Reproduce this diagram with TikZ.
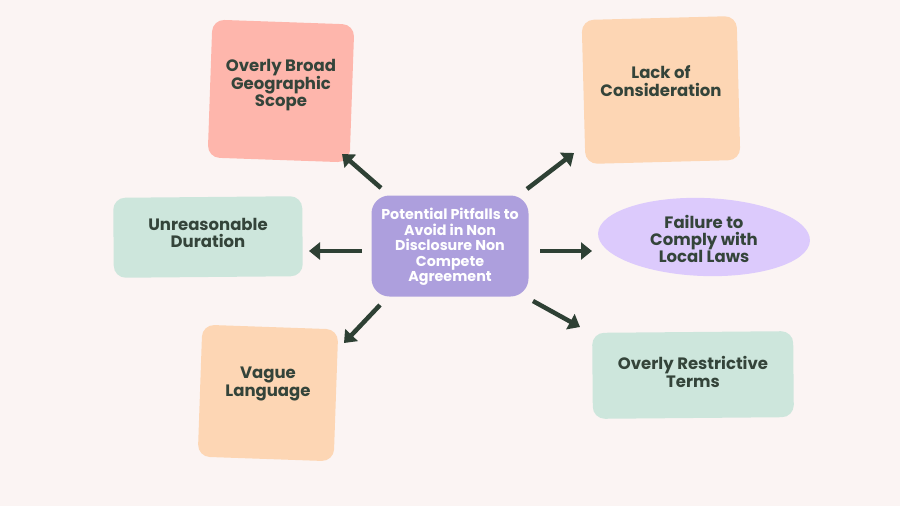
\documentclass[tikz,border=0pt]{standalone}
\usepackage{fontspec}
\setmainfont{Poppins}[UprightFont=* Bold]
\usetikzlibrary{arrows.meta,shapes.geometric}
\definecolor{bg}{HTML}{FBF4F3}
\definecolor{pinkc}{HTML}{FEB6AC}
\definecolor{peachc}{HTML}{FDD6B4}
\definecolor{mintc}{HTML}{CDE6DC}
\definecolor{lavc}{HTML}{AD9FDD}
\definecolor{lilac}{HTML}{DCCAFC}
\definecolor{inkc}{HTML}{2E4034}
\definecolor{txtc}{HTML}{34443A}
\tikzset{
  blob/.style={rounded corners=12pt, inner sep=0pt},
  lbl/.style={text=txtc, align=center, inner sep=0pt, font=\fontsize{16.5}{17.2}\selectfont},
  arr/.style={draw=inkc, line width=4.5pt, -{Triangle[length=11pt,width=17pt]}},
}
\begin{document}
\begin{tikzpicture}[x=1pt,y=-1pt]
\fill[bg] (0,0) rectangle (900,506);
\useasboundingbox (0,0) rectangle (900,506);
% boxes
\node[blob, fill=pinkc, minimum width=142pt, minimum height=138pt, rotate=-2] (geo) at (281,91) {};
\node[lbl] (geot) at (281,85) {Overly Broad\\Geographic\\Scope};
\node[blob, fill=peachc, minimum width=155pt, minimum height=144pt, rotate=1.5] (lack) at (661,90) {};
\node[lbl] (lackt) at (661,81) {Lack of\\Consideration};
\node[blob, fill=mintc, minimum width=189pt, minimum height=80pt, rotate=0.5] (dur) at (208,237) {};
\node[lbl] (durt) at (208,233) {Unreasonable\\Duration};
\node[blob, fill=lavc, minimum width=157pt, minimum height=101pt, rounded corners=18pt] (ctr) at (450,246) {};
\node[text=white, align=center, inner sep=0pt, font=\fontsize{14.3}{15.6}\selectfont] (ctrt) at (450,247) {Potential Pitfalls to\\Avoid in Non\\Disclosure Non\\Compete\\Agreement};
\node[ellipse, fill=lilac, minimum width=212pt, minimum height=78pt, inner sep=0pt, rotate=-2] (law) at (704,237) {};
\node[lbl] (lawt) at (704,239) {Failure to\\Comply with\\Local Laws};
\node[blob, fill=peachc, minimum width=136pt, minimum height=132pt, rotate=-2] (vague) at (268,393) {};
\node[lbl] (vaguet) at (268,384) {Vague\\Language};
\node[blob, fill=mintc, minimum width=201pt, minimum height=86pt, rotate=0.5] (restr) at (693,375) {};
\node[lbl] (restrt) at (693,372) {Overly Restrictive\\Terms};
% arrow ends
\coordinate (a1s) at (381,188); \coordinate (a1e) at (342,154);
\coordinate (a2s) at (527,189); \coordinate (a2e) at (574,153);
\coordinate (a3s) at (362,251); \coordinate (a3e) at (309,251);
\coordinate (a4s) at (540,251); \coordinate (a4e) at (592,251);
\coordinate (a5s) at (380,305); \coordinate (a5e) at (344,343);
\coordinate (a6s) at (533,301); \coordinate (a6e) at (580,327);
\draw[arr] (a1s) -- (a1e);
\draw[arr] (a2s) -- (a2e);
\draw[arr] (a3s) -- (a3e);
\draw[arr] (a4s) -- (a4e);
\draw[arr] (a5s) -- (a5e);
\draw[arr] (a6s) -- (a6e);
\end{tikzpicture}
\end{document}
